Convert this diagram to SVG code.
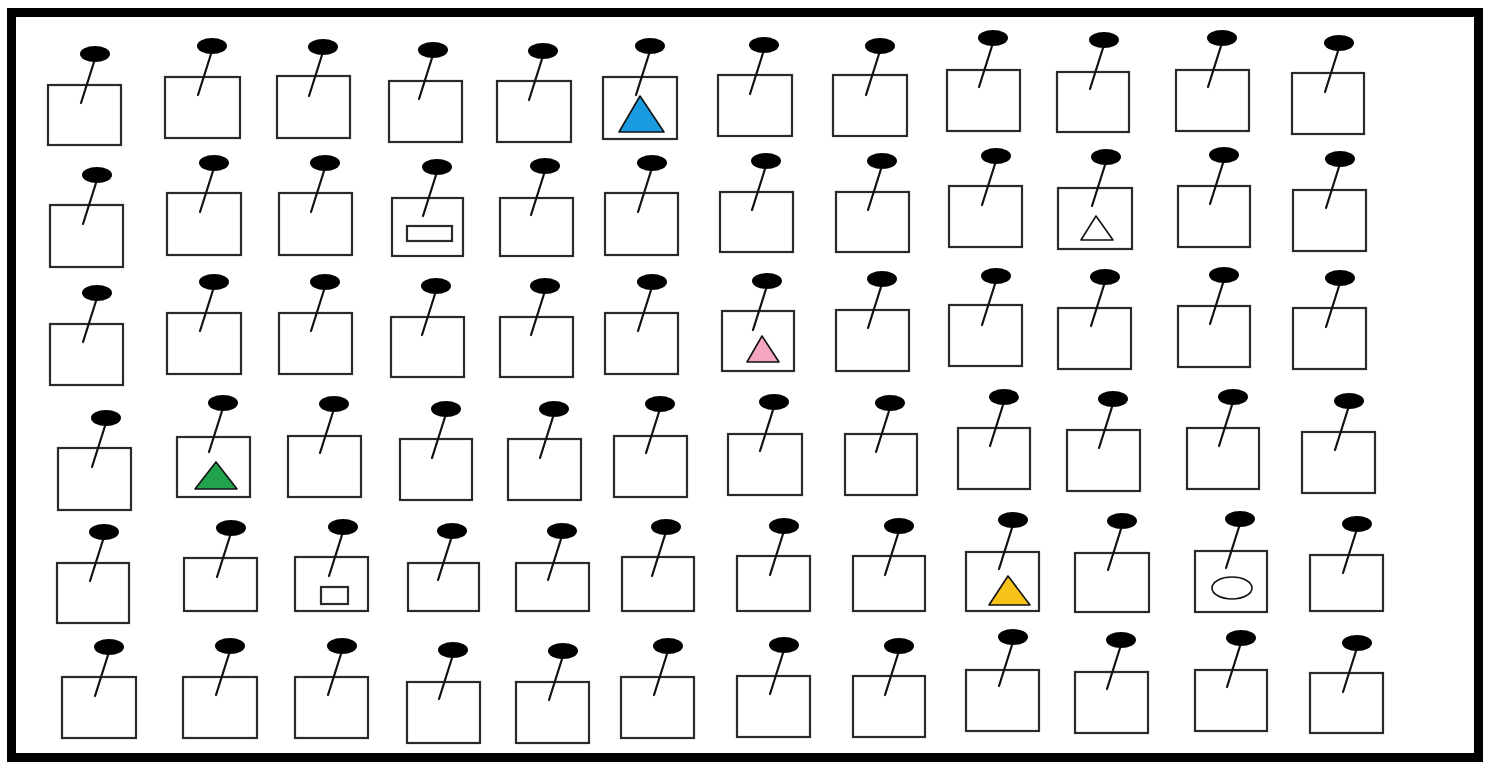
<svg xmlns="http://www.w3.org/2000/svg" xmlns:xlink="http://www.w3.org/1999/xlink" width="1497" height="762" viewBox="0 0 1497 762">
<style>
.box{fill:#fff;stroke:#2a2a2a;stroke-width:2.2}
.frame{fill:#fff;stroke:#000;stroke-width:9}
.tri{stroke:#111;stroke-width:1.6;stroke-linejoin:round}
</style>
<defs>
<g id="pin">
<line x1="-1" y1="8" x2="-14" y2="49" stroke="#111" stroke-width="2.2" stroke-linecap="round"/>
<ellipse cx="0" cy="0" rx="15" ry="8" fill="#000"/>
</g>
</defs>
<rect class="frame" x="11.5" y="12.5" width="1467" height="745"/>
<g id="r1">
<g id="n1-1"><rect class="box" x="48" y="85" width="73" height="60"/><use xlink:href="#pin" x="95" y="54"/></g>
<g id="n1-2"><rect class="box" x="165" y="77" width="75" height="61"/><use xlink:href="#pin" x="212" y="46"/></g>
<g id="n1-3"><rect class="box" x="277" y="76" width="73" height="62"/><use xlink:href="#pin" x="323" y="47"/></g>
<g id="n1-4"><rect class="box" x="389" y="81" width="73" height="61"/><use xlink:href="#pin" x="433" y="50"/></g>
<g id="n1-5"><rect class="box" x="497" y="81" width="74" height="61"/><use xlink:href="#pin" x="543" y="51"/></g>
<g id="n1-6"><rect class="box" x="603" y="77" width="74" height="62"/><polygon class="tri" points="640,96 619,132 664,132" fill="#1a9be0"/><use xlink:href="#pin" x="650" y="46"/></g>
<g id="n1-7"><rect class="box" x="718" y="75" width="74" height="61"/><use xlink:href="#pin" x="764" y="45"/></g>
<g id="n1-8"><rect class="box" x="833" y="75" width="74" height="61"/><use xlink:href="#pin" x="880" y="46"/></g>
<g id="n1-9"><rect class="box" x="947" y="70" width="73" height="61"/><use xlink:href="#pin" x="993" y="38"/></g>
<g id="n1-10"><rect class="box" x="1057" y="72" width="72" height="60"/><use xlink:href="#pin" x="1104" y="40"/></g>
<g id="n1-11"><rect class="box" x="1176" y="70" width="73" height="61"/><use xlink:href="#pin" x="1222" y="38"/></g>
<g id="n1-12"><rect class="box" x="1292" y="73" width="72" height="61"/><use xlink:href="#pin" x="1339" y="43"/></g>
</g>
<g id="r2">
<g id="n2-1"><rect class="box" x="50" y="205" width="73" height="62"/><use xlink:href="#pin" x="97" y="175"/></g>
<g id="n2-2"><rect class="box" x="167" y="193" width="74" height="62"/><use xlink:href="#pin" x="214" y="163"/></g>
<g id="n2-3"><rect class="box" x="279" y="193" width="73" height="62"/><use xlink:href="#pin" x="325" y="163"/></g>
<g id="n2-4"><rect class="box" x="392" y="198" width="71" height="58"/><rect class="box" x="407" y="226" width="45" height="15"/><use xlink:href="#pin" x="437" y="167"/></g>
<g id="n2-5"><rect class="box" x="500" y="198" width="73" height="58"/><use xlink:href="#pin" x="545" y="166"/></g>
<g id="n2-6"><rect class="box" x="605" y="193" width="73" height="62"/><use xlink:href="#pin" x="652" y="163"/></g>
<g id="n2-7"><rect class="box" x="720" y="192" width="73" height="60"/><use xlink:href="#pin" x="766" y="161"/></g>
<g id="n2-8"><rect class="box" x="836" y="192" width="73" height="60"/><use xlink:href="#pin" x="882" y="161"/></g>
<g id="n2-9"><rect class="box" x="949" y="186" width="73" height="61"/><use xlink:href="#pin" x="996" y="156"/></g>
<g id="n2-10"><rect class="box" x="1058" y="188" width="74" height="61"/><polygon class="tri" points="1096,216 1081,240 1113,240" fill="#fff"/><use xlink:href="#pin" x="1106" y="157"/></g>
<g id="n2-11"><rect class="box" x="1178" y="186" width="72" height="61"/><use xlink:href="#pin" x="1224" y="155"/></g>
<g id="n2-12"><rect class="box" x="1293" y="190" width="73" height="61"/><use xlink:href="#pin" x="1340" y="159"/></g>
</g>
<g id="r3">
<g id="n3-1"><rect class="box" x="50" y="324" width="73" height="61"/><use xlink:href="#pin" x="97" y="293"/></g>
<g id="n3-2"><rect class="box" x="167" y="313" width="74" height="61"/><use xlink:href="#pin" x="214" y="282"/></g>
<g id="n3-3"><rect class="box" x="279" y="313" width="73" height="61"/><use xlink:href="#pin" x="325" y="282"/></g>
<g id="n3-4"><rect class="box" x="391" y="317" width="73" height="60"/><use xlink:href="#pin" x="436" y="286"/></g>
<g id="n3-5"><rect class="box" x="500" y="317" width="73" height="60"/><use xlink:href="#pin" x="545" y="286"/></g>
<g id="n3-6"><rect class="box" x="605" y="313" width="73" height="61"/><use xlink:href="#pin" x="652" y="282"/></g>
<g id="n3-7"><rect class="box" x="722" y="311" width="72" height="60"/><polygon class="tri" points="762,336 747,362 779,362" fill="#f4a6c0"/><use xlink:href="#pin" x="767" y="281"/></g>
<g id="n3-8"><rect class="box" x="836" y="310" width="73" height="61"/><use xlink:href="#pin" x="882" y="279"/></g>
<g id="n3-9"><rect class="box" x="949" y="305" width="73" height="61"/><use xlink:href="#pin" x="996" y="276"/></g>
<g id="n3-10"><rect class="box" x="1058" y="308" width="73" height="61"/><use xlink:href="#pin" x="1105" y="277"/></g>
<g id="n3-11"><rect class="box" x="1178" y="306" width="72" height="61"/><use xlink:href="#pin" x="1224" y="275"/></g>
<g id="n3-12"><rect class="box" x="1293" y="308" width="73" height="61"/><use xlink:href="#pin" x="1340" y="278"/></g>
</g>
<g id="r4">
<g id="n4-1"><rect class="box" x="58" y="448" width="73" height="62"/><use xlink:href="#pin" x="106" y="418"/></g>
<g id="n4-2"><rect class="box" x="177" y="437" width="73" height="60"/><polygon class="tri" points="216,462 195,489 237,489" fill="#22a24a"/><use xlink:href="#pin" x="223" y="403"/></g>
<g id="n4-3"><rect class="box" x="288" y="436" width="73" height="61"/><use xlink:href="#pin" x="334" y="404"/></g>
<g id="n4-4"><rect class="box" x="400" y="439" width="72" height="61"/><use xlink:href="#pin" x="446" y="409"/></g>
<g id="n4-5"><rect class="box" x="508" y="439" width="73" height="61"/><use xlink:href="#pin" x="554" y="409"/></g>
<g id="n4-6"><rect class="box" x="614" y="436" width="73" height="61"/><use xlink:href="#pin" x="660" y="404"/></g>
<g id="n4-7"><rect class="box" x="728" y="434" width="74" height="61"/><use xlink:href="#pin" x="774" y="402"/></g>
<g id="n4-8"><rect class="box" x="845" y="434" width="72" height="61"/><use xlink:href="#pin" x="890" y="403"/></g>
<g id="n4-9"><rect class="box" x="958" y="428" width="72" height="61"/><use xlink:href="#pin" x="1004" y="397"/></g>
<g id="n4-10"><rect class="box" x="1067" y="430" width="73" height="61"/><use xlink:href="#pin" x="1113" y="399"/></g>
<g id="n4-11"><rect class="box" x="1187" y="428" width="72" height="61"/><use xlink:href="#pin" x="1233" y="397"/></g>
<g id="n4-12"><rect class="box" x="1302" y="432" width="73" height="61"/><use xlink:href="#pin" x="1349" y="401"/></g>
</g>
<g id="r5">
<g id="n5-1"><rect class="box" x="57" y="563" width="72" height="60"/><use xlink:href="#pin" x="104" y="532"/></g>
<g id="n5-2"><rect class="box" x="184" y="558" width="73" height="53"/><use xlink:href="#pin" x="231" y="528"/></g>
<g id="n5-3"><rect class="box" x="295" y="557" width="73" height="54"/><rect class="box" x="321" y="587" width="27" height="17"/><use xlink:href="#pin" x="343" y="527"/></g>
<g id="n5-4"><rect class="box" x="408" y="563" width="71" height="48"/><use xlink:href="#pin" x="452" y="531"/></g>
<g id="n5-5"><rect class="box" x="516" y="563" width="73" height="48"/><use xlink:href="#pin" x="562" y="531"/></g>
<g id="n5-6"><rect class="box" x="622" y="557" width="72" height="54"/><use xlink:href="#pin" x="666" y="527"/></g>
<g id="n5-7"><rect class="box" x="737" y="556" width="73" height="55"/><use xlink:href="#pin" x="784" y="526"/></g>
<g id="n5-8"><rect class="box" x="853" y="556" width="72" height="55"/><use xlink:href="#pin" x="899" y="526"/></g>
<g id="n5-9"><rect class="box" x="966" y="552" width="73" height="59"/><polygon class="tri" points="1008,576 989,605 1030,605" fill="#f7c21a"/><use xlink:href="#pin" x="1013" y="520"/></g>
<g id="n5-10"><rect class="box" x="1075" y="553" width="74" height="59"/><use xlink:href="#pin" x="1122" y="521"/></g>
<g id="n5-11"><rect class="box" x="1195" y="551" width="72" height="61"/><ellipse cx="1232" cy="588" rx="20" ry="11" fill="#fff" stroke="#111" stroke-width="1.6"/><use xlink:href="#pin" x="1240" y="519"/></g>
<g id="n5-12"><rect class="box" x="1310" y="555" width="73" height="56"/><use xlink:href="#pin" x="1357" y="524"/></g>
</g>
<g id="r6">
<g id="n6-1"><rect class="box" x="62" y="677" width="74" height="61"/><use xlink:href="#pin" x="109" y="647"/></g>
<g id="n6-2"><rect class="box" x="183" y="677" width="74" height="61"/><use xlink:href="#pin" x="230" y="646"/></g>
<g id="n6-3"><rect class="box" x="295" y="677" width="73" height="61"/><use xlink:href="#pin" x="342" y="646"/></g>
<g id="n6-4"><rect class="box" x="407" y="682" width="73" height="61"/><use xlink:href="#pin" x="453" y="650"/></g>
<g id="n6-5"><rect class="box" x="516" y="682" width="73" height="61"/><use xlink:href="#pin" x="563" y="651"/></g>
<g id="n6-6"><rect class="box" x="621" y="677" width="73" height="61"/><use xlink:href="#pin" x="668" y="646"/></g>
<g id="n6-7"><rect class="box" x="737" y="676" width="73" height="61"/><use xlink:href="#pin" x="784" y="645"/></g>
<g id="n6-8"><rect class="box" x="853" y="676" width="72" height="61"/><use xlink:href="#pin" x="899" y="646"/></g>
<g id="n6-9"><rect class="box" x="966" y="670" width="73" height="61"/><use xlink:href="#pin" x="1013" y="637"/></g>
<g id="n6-10"><rect class="box" x="1075" y="672" width="73" height="61"/><use xlink:href="#pin" x="1121" y="640"/></g>
<g id="n6-11"><rect class="box" x="1195" y="670" width="72" height="61"/><use xlink:href="#pin" x="1241" y="638"/></g>
<g id="n6-12"><rect class="box" x="1310" y="673" width="73" height="60"/><use xlink:href="#pin" x="1357" y="643"/></g>
</g>
</svg>
